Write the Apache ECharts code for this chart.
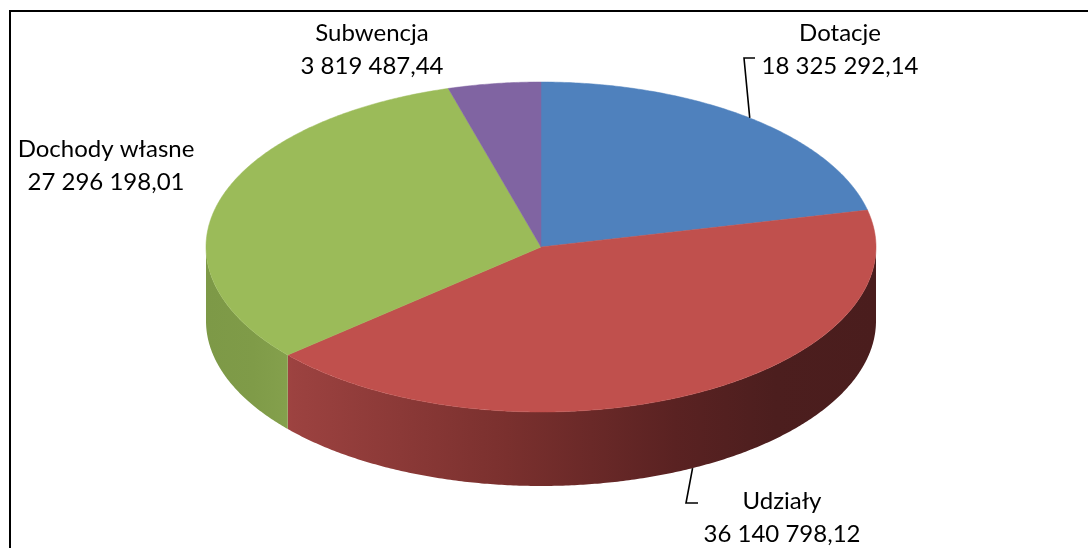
<!DOCTYPE html>
<html>
<head>
<meta charset="utf-8">
<script src="https://cdn.jsdelivr.net/npm/echarts@6/dist/echarts.min.js"></script>
<style>
html,body{margin:0;padding:0;background:#fff;}
#chart{width:1088px;height:548px;}
</style>
</head>
<body>
<div id="chart"></div>
<script>
// ---- data ----
const categories = ['Dotacje', 'Udziały', 'Dochody własne', 'Subwencja'];
const values = [18325292.14, 36140798.12, 27296198.01, 3819487.44];
const topColors = ['#4F81BD', '#C0504D', '#9BBB59', '#8064A2'];

// ---- layout (not data) ----
const pie = { cx: 541, cy: 247, rx: 335, ry: 165, depth: 74 };
const labelCenters = [[840, 50], [782, 518], [106, 166], [372, 50]];
const leaderElbows = [[[744, 58], [755, 58]], [[686, 503], [698, 503]], null, null];
const sideGradients = [
  [['#3A6090', 0], ['#2A4A70', 1]],
  [['#A54744', 0.10], ['#9C4240', 0.13], ['#7A302E', 0.45], ['#5A2222', 0.70], ['#4C1E1E', 0.85], ['#4A1D1D', 1]],
  [['#7D9947', 0], ['#7F9B48', 0.07], ['#84A04C', 0.12], ['#84A04C', 1]],
  [['#5E4A78', 0], ['#5E4A78', 1]]
];

function fmt(v) {
  const parts = v.toFixed(2).split('.');
  const intPart = parts[0].replace(/\B(?=(\d{3})+(?!\d))/g, ' ');
  return intPart + ',' + parts[1];
}

const total = values.reduce((a, b) => a + b, 0);

function pt(t, dy) {
  return [pie.cx + pie.rx * Math.sin(t), pie.cy - pie.ry * Math.cos(t) + (dy || 0)];
}
function arc(a1, a2, dy) {
  const pts = [];
  const n = Math.max(2, Math.ceil(Math.abs(a2 - a1) / (Math.PI / 360)));
  for (let k = 0; k <= n; k++) pts.push(pt(a1 + (a2 - a1) * k / n, dy));
  return pts;
}

function renderItem(params, api) {
  const i = params.dataIndex;
  let before = 0;
  for (let k = 0; k < i; k++) before += values[k];
  const a1 = before / total * Math.PI * 2;
  const a2 = (before + values[i]) / total * Math.PI * 2;
  const children = [];

  // side wall (front half only)
  const s1 = Math.max(a1, Math.PI / 2), s2 = Math.min(a2, Math.PI * 1.5);
  if (s1 < s2) {
    const top = arc(s1, s2, 0);
    const bot = arc(s2, s1, pie.depth);
    children.push({
      type: 'polygon',
      shape: { points: top.concat(bot) },
      style: {
        fill: {
          type: 'linear', global: true,
          x: pie.cx - pie.rx, y: 0, x2: pie.cx + pie.rx, y2: 0,
          colorStops: sideGradients[i].map(s => ({ offset: s[1], color: s[0] }))
        },
        stroke: null
      }
    });
  }
  // top face
  children.push({
    type: 'polygon',
    shape: { points: [[pie.cx, pie.cy]].concat(arc(a1, a2, 0)) },
    style: { fill: topColors[i], stroke: topColors[i], lineWidth: 0.5 }
  });
  // leader line
  if (leaderElbows[i]) {
    const m = (a1 + a2) / 2;
    const start = pt(m, Math.cos(m) < 0 ? pie.depth : 0);
    children.push({
      type: 'polyline',
      shape: { points: [start].concat(leaderElbows[i]) },
      style: { stroke: '#000', lineWidth: 1.6, fill: null }
    });
  }
  // label
  children.push({
    type: 'text',
    x: labelCenters[i][0], y: labelCenters[i][1],
    style: {
      text: categories[i] + '\n' + fmt(values[i]),
      align: 'center', verticalAlign: 'middle',
      font: '24px Lato', fill: '#000', lineHeight: 33
    }
  });
  return { type: 'group', children: children };
}

const chart = echarts.init(document.getElementById('chart'), null, { renderer: 'canvas' });
chart.setOption({
  backgroundColor: '#fff',
  animation: false,
  graphic: [{
    type: 'rect', silent: true,
    shape: { x: 10, y: 11, width: 1200, height: 700 },
    style: { fill: null, stroke: '#000', lineWidth: 2 }
  }],
  series: [{
    type: 'custom',
    coordinateSystem: 'none',
    silent: true,
    renderItem: renderItem,
    data: values
  }]
});
</script>
</body>
</html>
